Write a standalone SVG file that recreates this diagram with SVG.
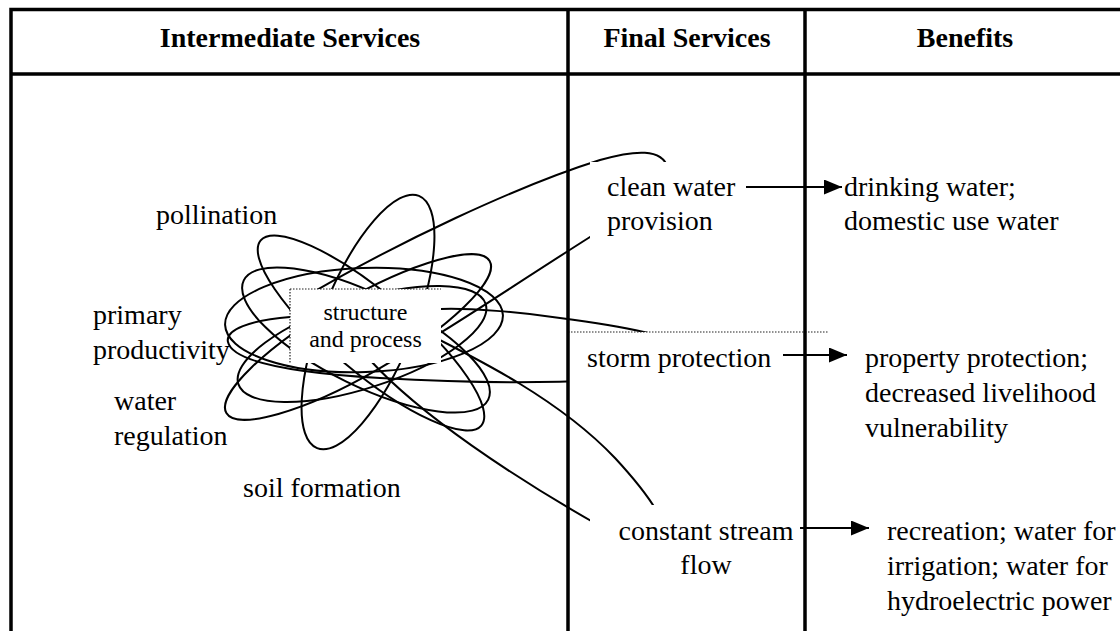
<svg xmlns="http://www.w3.org/2000/svg" width="1120" height="631" viewBox="0 0 1120 631">
<style>
text{font-family:"Liberation Serif","Times New Roman",serif;fill:#000}
.h{font-size:28px;font-weight:bold;text-anchor:middle}
.t{font-size:28px}
.s{font-size:24px;text-anchor:middle}
.grid{stroke:#000;stroke-width:3.5;fill:none}
.ln{stroke:#000;stroke-width:2;fill:none}
.dot{stroke:#222;stroke-width:1.2;stroke-dasharray:1.5 1.5;fill:none}
.mask{fill:#fff;stroke:none}
</style>
<defs>
<marker id="ah" markerUnits="userSpaceOnUse" markerWidth="18" markerHeight="15" refX="18" refY="7.5" orient="auto">
<path d="M0,0 L18,7.5 L0,15 Z" fill="#000"/>
</marker>
</defs>
<rect width="1120" height="631" fill="#fff"/>

<g id="cluster">
<ellipse class="ln" cx="364" cy="320" rx="139" ry="52" transform="rotate(-2 364 320)"/>
<ellipse class="ln" cx="371" cy="333" rx="144" ry="40" transform="rotate(40 371 333)"/>
<ellipse class="ln" cx="366" cy="340" rx="136" ry="46" transform="rotate(26 366 340)"/>
<ellipse class="ln" cx="358" cy="337" rx="152" ry="38" transform="rotate(-30 358 337)"/>
<ellipse class="ln" cx="362" cy="344" rx="130" ry="44" transform="rotate(-18 362 344)"/>
<ellipse class="ln" cx="368" cy="322" rx="136" ry="46" transform="rotate(-68 368 322)"/>
</g>

<g id="connectors">
<path class="ln" d="M300 300 C395 243 520 185 600 160 C635 150 662 148 668 168 C672 185 640 205 590 237 C530 275 470 315 440 333 C400 355 320 330 300 300 Z"/>
<path class="ln" d="M290 317 C250 320 225 330 228 342 C232 360 280 372 380 378 C450 382 530 384 600 380 C650 376 690 360 680 345 C670 335 620 326 560 318 C520 312 470 308 441 309 Z"/>
<path class="ln" d="M420 330 C480 360 560 400 615 458 C640 485 660 510 665 530 C668 545 640 540 600 526 C515 478 420 415 370 360 Z"/>
</g>

<g id="node-structure">
<rect class="mask" x="290" y="289" width="151" height="74"/>
<path class="dot" d="M290 289 H441 M290 289 V363"/>
<text class="s" x="365.5" y="320">structure</text>
<text class="s" x="365.5" y="347">and process</text>
</g>

<g id="masks">
<rect class="mask" x="590" y="162" width="155" height="88"/>
<rect class="mask" x="568" y="332" width="260" height="68"/>
<rect class="mask" x="590" y="505" width="212" height="126"/>
<path class="dot" d="M568 332 H828"/>
</g>

<g id="table">
<path class="grid" d="M11 9.5 H1120 M11 74 H1120 M11 7.75 V631 M568 9.5 V631 M805 9.5 V631"/>
<text class="h" x="290" y="47">Intermediate Services</text>
<text class="h" x="687" y="47">Final Services</text>
<text class="h" x="965" y="47">Benefits</text>
</g>

<g id="intermediate">
<text class="t" x="156" y="224">pollination</text>
<text class="t" x="93" y="324">primary</text>
<text class="t" x="93" y="359">productivity</text>
<text class="t" x="114" y="410">water</text>
<text class="t" x="114" y="445">regulation</text>
<text class="t" x="243" y="497">soil formation</text>
</g>

<g id="final-clean">
<text class="t" x="607" y="196">clean water</text>
<text class="t" x="607" y="230">provision</text>
</g>
<g id="final-storm">
<text class="t" x="587" y="367">storm protection</text>
</g>
<g id="final-stream">
<text class="t" x="706" y="540" text-anchor="middle">constant stream</text>
<text class="t" x="706" y="574" text-anchor="middle">flow</text>
</g>

<g id="benefit-water">
<text class="t" x="844" y="196">drinking water;</text>
<text class="t" x="844" y="230">domestic use water</text>
</g>
<g id="benefit-property">
<text class="t" x="865" y="367">property protection;</text>
<text class="t" x="865" y="402">decreased livelihood</text>
<text class="t" x="865" y="437">vulnerability</text>
</g>
<g id="benefit-recreation">
<text class="t" x="887" y="540">recreation; water for</text>
<text class="t" x="887" y="575">irrigation; water for</text>
<text class="t" x="887" y="610">hydroelectric power</text>
</g>

<g id="arrows">
<line class="ln" x1="746" y1="187" x2="842" y2="187" marker-end="url(#ah)"/>
<line class="ln" x1="783" y1="355" x2="847" y2="355" marker-end="url(#ah)"/>
<line class="ln" x1="800" y1="528" x2="869" y2="528" marker-end="url(#ah)"/>
</g>
</svg>
